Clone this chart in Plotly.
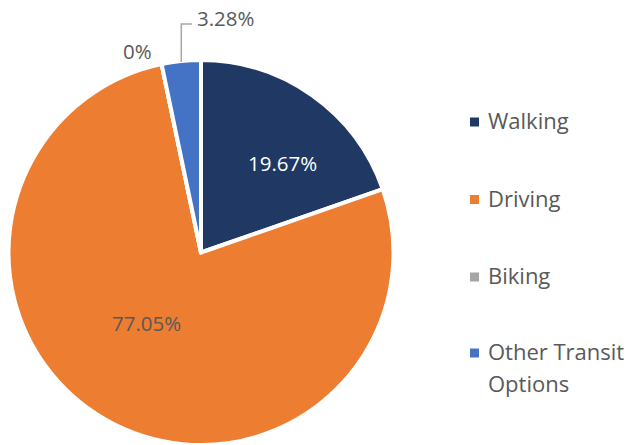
import math
import textwrap
import plotly.graph_objects as go

# Share of trips by transport mode (percent)
modes = ["Walking", "Driving", "Biking", "Other Transit Options"]
shares = [19.67, 77.05, 0, 3.28]
colors = ["#203864", "#ED7D31", "#A5A5A5", "#4472C4"]

W, H = 626, 445
TEXT = "#595959"
FONT = "Open Sans"

# pie geometry in pixels
cx, cy, r = 201.0, 252.5, 191.5
half = H - cy  # domain half-size, pie sits on the bottom edge


def px(x):
    return x / W


def py(y):
    return 1 - y / H


fig = go.Figure(
    go.Pie(
        labels=modes,
        values=shares,
        sort=False,
        direction="clockwise",
        rotation=0,
        marker=dict(colors=colors, line=dict(color="white", width=4)),
        textinfo="none",
        hoverinfo="label+percent",
        showlegend=False,
        domain=dict(x=[px(cx - half), px(cx + half)], y=[0, 2 * half / H]),
    )
)


def fmt(v):
    return f"{v:g}%"


annotations = []
shapes = []

# data labels: (text colour, label centre in px)
label_pos = [
    ("white", 282, 163),
    (TEXT, 146, 323),
    (TEXT, 137, 51),
    (TEXT, 226, 18),
]
for v, (col, lx, ly) in zip(shares, label_pos):
    annotations.append(dict(
        x=px(lx), y=py(ly), xref="paper", yref="paper",
        text=fmt(v), showarrow=False, xanchor="center", yanchor="middle",
        font=dict(family=FONT, size=20.5, color=col),
    ))

# leader line for the small "Other" slice, starting at its mid-angle on the rim
total = sum(shares)
start = sum(shares[:3]) / total
mid = (start + shares[3] / total / 2) * 2 * math.pi
ex = cx + r * math.sin(mid)
ey = cy - r * math.cos(mid)
shapes.append(dict(
    type="path", xref="paper", yref="paper",
    path=f"M {px(ex)} {py(ey)} L {px(ex)} {py(24)} L {px(192)} {py(24)}",
    line=dict(color="#A6A6A6", width=1.5),
))

# legend
legend_y = [122, 199.5, 277, 353]
line_step = 32
for name, col, ly in zip(modes, colors, legend_y):
    shapes.append(dict(
        type="rect", xref="paper", yref="paper",
        x0=px(470), x1=px(479), y0=py(ly - 4.5), y1=py(ly + 4.5),
        fillcolor=col, line=dict(width=0),
    ))
    for i, line in enumerate(textwrap.wrap(name, 14)):
        annotations.append(dict(
            x=px(486), y=py(ly - 2 + i * line_step), xref="paper", yref="paper",
            text=line, showarrow=False, xanchor="left", yanchor="middle",
            align="left",
            font=dict(family=FONT, size=22, color=TEXT),
        ))

fig.update_layout(
    width=W, height=H,
    margin=dict(l=0, r=0, t=0, b=0),
    paper_bgcolor="white", plot_bgcolor="white",
    annotations=annotations, shapes=shapes,
)

fig.write_html("out.html")
